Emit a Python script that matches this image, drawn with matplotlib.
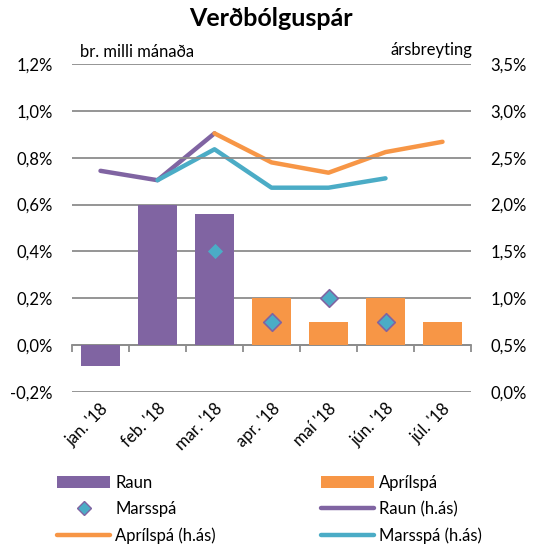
import matplotlib
matplotlib.use("Agg")
import matplotlib.pyplot as plt
from matplotlib.ticker import FuncFormatter
from matplotlib.lines import Line2D
from matplotlib.patches import Patch
import numpy as np

plt.rcParams['font.family'] = ['Lato', 'DejaVu Sans']

categories = ["jan. '18", "feb. '18", "mar. '18", "apr. '18", "maí '18", "jún. '18", "júl. '18"]
raun_bar = [-0.09, 0.60, 0.56, None, None, None, None]
aprilspa_bar = [None, None, None, 0.20, 0.10, 0.20, 0.10]
marsspa_pts = [None, None, 0.40, 0.10, 0.20, 0.10, None]
raun_line = [2.36, 2.26, 2.76, None, None, None, None]
aprilspa_line = [None, None, 2.76, 2.45, 2.34, 2.56, 2.67]
marsspa_line = [None, 2.26, 2.59, 2.18, 2.18, 2.28, None]

left_ticks = [-0.2, 0.0, 0.2, 0.4, 0.6, 0.8, 1.0, 1.2]
right_ticks = [0.0, 0.5, 1.0, 1.5, 2.0, 2.5, 3.0, 3.5]

PURPLE = '#8064A2'
ORANGE = '#F79646'
TEAL = '#4BACC6'
GRID = '#8C8C8C'
FS = 12

fig = plt.figure(figsize=(5.42, 5.47), dpi=100)
ax = fig.add_axes([72/542, 1-392/547, (471-72)/542, (392-64)/547])
ax2 = ax.twinx()

x = np.arange(len(categories))
bw = 0.69

def vals(arr):
    return [np.nan if v is None else v for v in arr]

ymin, ymax = -0.2, 1.2
ax.set_ylim(ymin, ymax)
ax.set_xlim(-0.5, len(categories) - 0.5)
ax.set_yticks(left_ticks)
ax.yaxis.set_major_formatter(FuncFormatter(lambda v, p: f"{v:.1f}%".replace('.', ',')))
for t in left_ticks:
    ax.axhline(t, color=GRID, lw=1.3, zorder=0)

ax.bar(x, vals(raun_bar), width=bw, color=PURPLE, zorder=2)
ax.bar(x, vals(aprilspa_bar), width=bw, color=ORANGE, zorder=2)
ax.scatter(x, vals(marsspa_pts), marker='D', s=80, facecolor=TEAL, edgecolor=PURPLE, linewidth=1.2, zorder=5)

ax2.set_ylim(0.0, 3.5)
ax2.set_yticks(right_ticks)
ax2.yaxis.set_major_formatter(FuncFormatter(lambda v, p: f"{v:.1f}%".replace('.', ',')))
lw = 3.2
ax2.plot(x, vals(raun_line), color=PURPLE, lw=lw, solid_capstyle='round', solid_joinstyle='round', zorder=3)
ax2.plot(x, vals(marsspa_line), color=TEAL, lw=lw, solid_capstyle='round', solid_joinstyle='round', zorder=3)
ax2.plot(x, vals(aprilspa_line), color=ORANGE, lw=lw, solid_capstyle='round', solid_joinstyle='round', zorder=4)

ax.set_zorder(ax2.get_zorder() + 1)
ax.patch.set_visible(False)

for a in (ax, ax2):
    for s in a.spines.values():
        s.set_visible(False)
    a.tick_params(axis='y', length=0, labelsize=FS, colors='black', pad=14)
ax2.tick_params(axis='x', length=0, labelbottom=False)

# category labels at bottom
ax.set_xticks(x)
ax.set_xticklabels(categories)
ax.tick_params(axis='x', length=0, labelsize=FS, labelrotation=45, pad=6)
for lab in ax.get_xticklabels():
    lab.set_ha('right')
    lab.set_rotation_mode('anchor')

# category axis line at zero with boundary tick marks
zero_pos = (0 - ymin) / (ymax - ymin)
sec = ax.secondary_xaxis(zero_pos)
sec.set_xticks(np.arange(-0.5, len(categories), 1.0))
sec.set_xticklabels([])
sec.tick_params(axis='x', length=5, color=GRID, width=1.3, direction='out')
for k, s in sec.spines.items():
    s.set_visible(k == 'bottom')
sec.spines['bottom'].set_color(GRID)
sec.spines['bottom'].set_linewidth(1.3)

fig.text(0.5, 1-18/547, 'Verðbólguspár', ha='center', va='center', fontsize=18, fontweight='bold')
fig.text(80/542, 1-52/547, 'br. milli mánaða', ha='left', va='center', fontsize=FS)
fig.text(472/542, 1-50/547, 'ársbreyting', ha='right', va='center', fontsize=FS)

handles = [
    Patch(facecolor=PURPLE),
    Line2D([], [], marker='D', color='none', markerfacecolor=TEAL, markeredgecolor=PURPLE, markersize=7),
    Line2D([], [], color=ORANGE, lw=lw, solid_capstyle='round'),
    Patch(facecolor=ORANGE),
    Line2D([], [], color=PURPLE, lw=lw, solid_capstyle='round'),
    Line2D([], [], color=TEAL, lw=lw, solid_capstyle='round'),
]
labels = ['Raun', 'Marsspá', 'Aprílspá (h.ás)', 'Aprílspá', 'Raun (h.ás)', 'Marsspá (h.ás)']
fig.legend(handles, labels, ncol=2, loc='upper left', bbox_to_anchor=(57/542, 1-475/547),
           frameon=False, fontsize=FS, handlelength=3.2, handleheight=0.75, columnspacing=6.3,
           labelspacing=0.62, handletextpad=0.3, borderaxespad=0, borderpad=0)

fig.savefig('out.png', dpi=100)
